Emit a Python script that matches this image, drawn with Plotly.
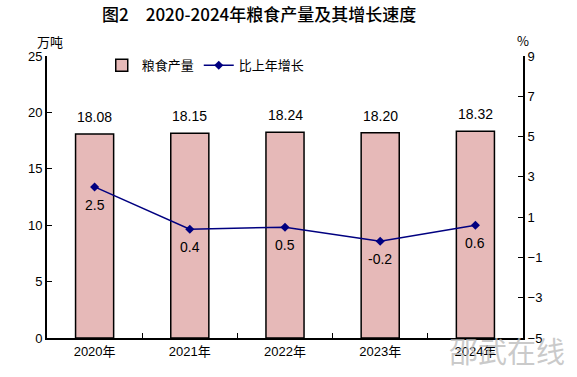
import plotly.graph_objects as go

categories = ["2020年", "2021年", "2022年", "2023年", "2024年"]
output_values = [18.08, 18.15, 18.24, 18.20, 18.32]
growth_values = [2.5, 0.4, 0.5, -0.2, 0.6]
left_ticks = [0, 5, 10, 15, 20, 25]
right_ticks = [-5, -3, -1, 1, 3, 5, 7, 9]

FONT = "Liberation Sans, Arial, Noto Sans CJK SC, sans-serif"
CJK = "Noto Sans CJK SC, SimHei, sans-serif"

fig = go.Figure()
fig.add_trace(go.Bar(
    x=categories, y=output_values, name="粮食产量",
    marker=dict(color="#E6B9B8", line=dict(color="black", width=1.5)),
    yaxis="y",
))
fig.add_trace(go.Scatter(
    x=categories, y=growth_values, name="比上年增长", yaxis="y2",
    mode="lines+markers", line=dict(color="#000080", width=1.5),
    marker=dict(symbol="diamond", size=7, color="#000080"),
))
for c, v in zip(categories, output_values):
    fig.add_annotation(x=c, y=v, yref="y", text=f"{v:.2f}", showarrow=False,
                       yanchor="middle", yshift=17,
                       font=dict(size=14, color="black", family=FONT))
for c, v in zip(categories, growth_values):
    fig.add_annotation(x=c, y=v, yref="y2", text=f"{v:g}", showarrow=False,
                       yanchor="middle", yshift=-18,
                       font=dict(size=14, color="black", family=FONT))

fig.update_layout(
    width=577, height=377,
    margin=dict(l=47, r=54, t=56, b=39),
    paper_bgcolor="white", plot_bgcolor="white",
    showlegend=True,
    legend=dict(orientation="h", x=0.115, y=1.02, xanchor="left", yanchor="top",
                font=dict(size=13, family=CJK, color="black"),
                bgcolor="rgba(0,0,0,0)", itemwidth=30, tracegroupgap=0),
    bargap=0.6,
    title=dict(text="图2　2020-2024年粮食产量及其增长速度", x=102 / 577, xanchor="left",
               y=1 - 15 / 377, yanchor="middle",
               font=dict(size=17, family=CJK, color="black", weight=500)),
    xaxis=dict(type="category", showline=True, linecolor="black", linewidth=2,
               ticks="inside", tickson="boundaries", ticklen=5, tickcolor="black",
               tickfont=dict(size=13, family=FONT, color="black"), showgrid=False),
    yaxis=dict(range=[0, 25], tickvals=left_ticks, showline=True, linecolor="black",
               linewidth=2, ticks="inside", ticklen=5, tickcolor="black",
               tickfont=dict(size=13, family=FONT, color="black"), showgrid=False,
               zeroline=False, automargin=False),
    yaxis2=dict(range=[-5, 9], tickvals=right_ticks, overlaying="y", side="right",
                showline=True, linecolor="black", linewidth=2, ticks="inside",
                ticklen=5, tickcolor="black",
                tickfont=dict(size=13, family=FONT, color="black"), showgrid=False,
                zeroline=False, automargin=False),
)
fig.add_annotation(xref="paper", yref="paper", x=0.006, y=1.05, text="万吨",
                   showarrow=False, xanchor="center", yanchor="middle",
                   font=dict(size=13, family=CJK, color="black"))
fig.add_annotation(xref="paper", yref="paper", x=1.0, y=1.055, text="%", showarrow=False,
                   font=dict(size=13, family=CJK, color="black"), xanchor="center",
                   yanchor="middle")
fig.add_annotation(xref="paper", yref="paper", x=(507 - 47) / 476, y=-12 / 282,
                   text="邵武在线", showarrow=False, xanchor="center", yanchor="middle",
                   font=dict(size=29, family=CJK, color="rgba(185,185,185,0.75)"))

fig.write_html("out.html", config={"displayModeBar": False},
               post_script="document.body.style.margin='0';document.body.style.padding='0';")
